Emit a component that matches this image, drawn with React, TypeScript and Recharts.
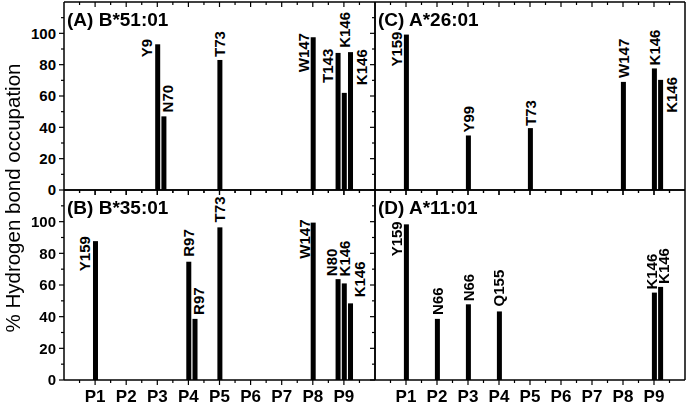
import React from 'react';
import { BarChart, Bar, XAxis, YAxis } from 'recharts';

const FONT = '"Liberation Sans", Arial, sans-serif';

// x positions P1..P9 and y ticks
const pocketNames = ['P1', 'P2', 'P3', 'P4', 'P5', 'P6', 'P7', 'P8', 'P9'];
const yTickValues = [0, 10, 20, 30, 40, 50, 60, 70, 80, 90, 100, 110];
const yLabelMax = 100;

// (A) B*51:01
const posA = [3, 3.2, 5, 8, 8.8, 9, 9.2];
const valA = [93, 47, 83, 97.5, 87.5, 62, 88];
const resA = ['Y9', 'N70', 'T73', 'W147', 'T143', 'K146', 'K146'];

// (B) B*35:01
const posB = [1, 4, 4.2, 5, 8, 8.8, 9, 9.2];
const valB = [87.7, 74.7, 38.6, 96.4, 99.4, 63.7, 61, 48.4];
const resB = ['Y159', 'R97', 'R97', 'T73', 'W147', 'N80', 'K146', 'K146'];

// (C) A*26:01
const posC = [1, 3, 5, 8, 9, 9.2];
const valC = [99.2, 34.8, 39.5, 69, 77.6, 70.3];
const resC = ['Y159', 'Y99', 'T73', 'W147', 'K146', 'K146'];

// (D) A*11:01
const posD = [1, 2, 3, 4, 9, 9.2];
const valD = [98.3, 38.6, 47.8, 43.3, 55.2, 58.8];
const resD = ['Y159', 'N66', 'N66', 'Q155', 'K146', 'K146'];

// label placement (px offset of text centre from bar centre, text bottom from bar top)
const offA = [[-11, 13], [4, -4], [0, -3], [-10, 35], [-10, 30], [0, -45], [11, 33]];
const offB = [[-11, 30], [0, -5], [4, -4], [0, -5], [-9, 36], [-6, -3], [0, -7], [9, -6]];
const offC = [[-10, 32], [0, -3], [0, -2], [0, -4], [0, -3], [11, 33]];
const offD = [[-10, 32], [0, -4], [0, -3], [-1, -5], [-3, -3], [3, -3]];

const xTicks: number[] = [];
pocketNames.forEach((_, i) => {
  xTicks.push(i + 0.5, i + 1);
});
xTicks.push(9.5);

const axisStroke = { stroke: '#000', strokeWidth: 1.5 };
const PAD = 10;

const XTick = (props: any) => {
  const { x, y, payload, showLabel } = props;
  const v = payload.value;
  const major = Number.isInteger(v);
  const len = major ? 5 : 3;
  return (
    <g>
      <line x1={x} x2={x} y1={y} y2={y + len} stroke="#000" strokeWidth={1.2} />
      {showLabel && major && (
        <text x={x} y={y + 22} textAnchor="middle" fontSize={17} fontWeight="bold" fontFamily={FONT} fill="#000">
          {pocketNames[v - 1]}
        </text>
      )}
    </g>
  );
};

const YTick = (props: any) => {
  const { x, y, payload, showLabel } = props;
  const v = payload.value;
  const major = v % 20 === 0;
  const len = major ? 5 : 3;
  return (
    <g>
      <line x1={x} x2={x - len} y1={y} y2={y} stroke="#000" strokeWidth={1.2} />
      {showLabel && major && v <= yLabelMax && (
        <text x={x - 8} y={y} dy="0.36em" textAnchor="end" fontSize={15} fontWeight="bold" fontFamily={FONT} fill="#000">
          {v}
        </text>
      )}
    </g>
  );
};

const BarWithLabel = (props: any) => {
  const { x, y, width, height, payload, offsets } = props;
  const [dx, dy] = offsets[payload.i] ?? [0, -3];
  const cx = x + width / 2;
  const tx = cx + dx + 5.4;
  const ty = y + dy;
  return (
    <g>
      <rect x={x} y={y} width={width} height={height} fill="#000" />
      <text
        x={tx}
        y={ty}
        transform={`rotate(-90 ${tx} ${ty})`}
        textAnchor="start"
        fontSize={15}
        fontWeight="bold"
        fontFamily={FONT}
        fill="#000"
      >
        {payload.name}
      </text>
    </g>
  );
};

type PanelProps = {
  pos: number[];
  vals: number[];
  names: string[];
  offsets: number[][];
  left: number;
  top: number;
  width: number;
  height: number;
  showX: boolean;
  showY: boolean;
};

function Panel({ pos, vals, names, offsets, left, top, width, height, showX, showY }: PanelProps) {
  const rows = pos.map((p, i) => ({ i, pos: p, value: vals[i], name: names[i] }));
  return (
    <div style={{ position: 'absolute', left: left - PAD, top: top - PAD }}>
      <BarChart
        width={width + 2 * PAD}
        height={height + 2 * PAD}
        data={rows}
        margin={{ top: 0, right: 0, bottom: 0, left: 0 }}
      >
        <XAxis
          xAxisId="b"
          dataKey="pos"
          type="number"
          domain={[0, 10]}
          ticks={xTicks}
          interval={0}
          height={PAD}
          tickSize={0}
          tickMargin={0}
          tickLine={false}
          axisLine={axisStroke}
          tick={(p: any) => <XTick {...p} showLabel={showX} />}
        />
        <XAxis
          xAxisId="t"
          orientation="top"
          dataKey="pos"
          type="number"
          domain={[0, 10]}
          ticks={xTicks}
          interval={0}
          height={PAD}
          tickSize={0}
          tickMargin={0}
          tickLine={false}
          axisLine={axisStroke}
          tick={(p: any) => <XTick {...p} showLabel={false} />}
        />
        <YAxis
          yAxisId="l"
          type="number"
          domain={[0, 120]}
          ticks={yTickValues}
          interval={0}
          width={PAD}
          tickSize={0}
          tickMargin={0}
          tickLine={false}
          axisLine={axisStroke}
          tick={(p: any) => <YTick {...p} showLabel={showY} />}
        />
        <YAxis
          yAxisId="r"
          orientation="right"
          type="number"
          domain={[0, 120]}
          ticks={yTickValues}
          interval={0}
          width={PAD}
          tickSize={0}
          tickMargin={0}
          tickLine={false}
          axisLine={axisStroke}
          tick={(p: any) => <YTick {...p} showLabel={false} />}
        />
        <Bar
          xAxisId="b"
          yAxisId="l"
          dataKey="value"
          barSize={5}
          fill="#000"
          isAnimationActive={false}
          shape={(p: any) => <BarWithLabel {...p} offsets={offsets} />}
        />
      </BarChart>
    </div>
  );
}

const titleStyle = { fontSize: 19, fontWeight: 'bold' as const, fontFamily: FONT, fill: '#000' };

export default function App() {
  return (
    <div style={{ position: 'fixed', left: 0, top: 0, width: 688, height: 405, background: '#fff' }}>
      <style>{`.recharts-surface{overflow:visible}`}</style>
      <Panel pos={posA} vals={valA} names={resA} offsets={offA} left={64} top={2} width={311} height={188} showX={false} showY />
      <Panel pos={posC} vals={valC} names={resC} offsets={offC} left={375} top={2} width={310} height={188} showX={false} showY={false} />
      <Panel pos={posB} vals={valB} names={resB} offsets={offB} left={64} top={190} width={311} height={190} showX showY />
      <Panel pos={posD} vals={valD} names={resD} offsets={offD} left={375} top={190} width={310} height={190} showX showY={false} />
      <svg width={688} height={405} style={{ position: 'absolute', left: 0, top: 0, pointerEvents: 'none' }}>
        <text x={67} y={26} {...titleStyle}>(A) B*51:01</text>
        <text x={378} y={26} {...titleStyle}>(C) A*26:01</text>
        <text x={67} y={214} {...titleStyle}>(B) B*35:01</text>
        <text x={378} y={214} {...titleStyle}>(D) A*11:01</text>
        <text
          x={20}
          y={198}
          transform="rotate(-90 20 198)"
          textAnchor="middle"
          fontSize={20.5}
          fontFamily={FONT}
          fill="#000"
        >
          % Hydrogen bond occupation
        </text>
      </svg>
    </div>
  );
}
